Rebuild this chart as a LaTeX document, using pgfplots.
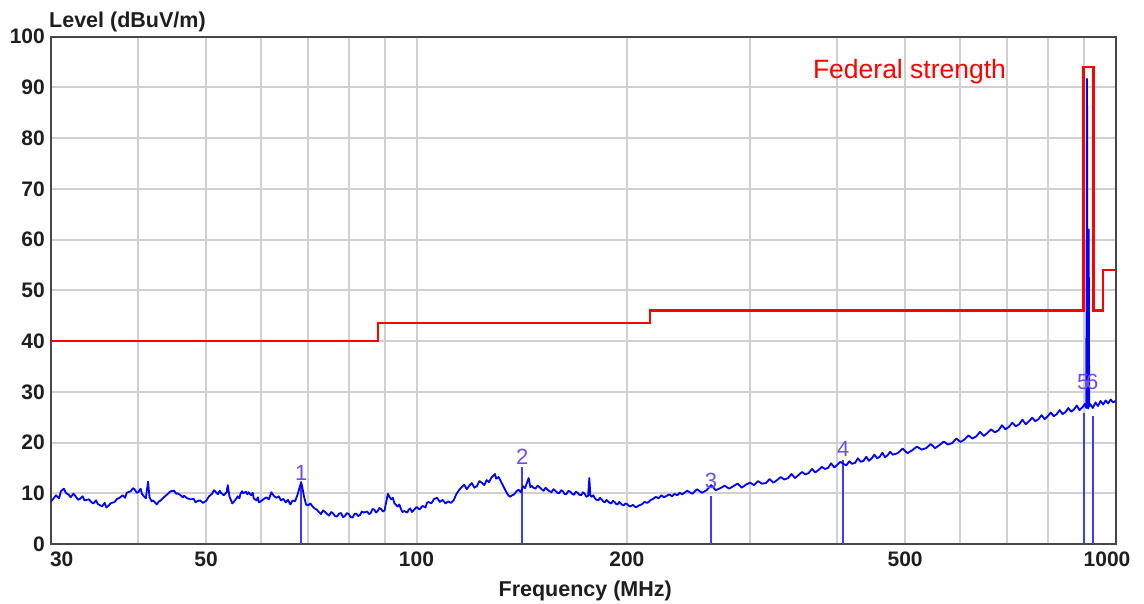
\documentclass[border=0pt]{standalone}
\usepackage{pgfplots}
\pgfplotsset{compat=1.18}
\usepackage{fontspec}
\setmainfont{Liberation Sans}
\definecolor{gridc}{RGB}{208,208,208}
\definecolor{boxc}{RGB}{70,70,70}
\definecolor{tracec}{RGB}{0,0,255}
\definecolor{mkline}{RGB}{60,60,255}
\definecolor{mklab}{RGB}{110,80,230}
\definecolor{tickc}{RGB}{30,30,30}
\begin{document}
\begin{tikzpicture}
\begin{axis}[name=ax, scale only axis, width=1064.5pt, height=507.3pt,
 xmode=log, xmin=30, xmax=1000, ymin=0, ymax=100,
 xtick={30,50,100,200,500,1000},
 xticklabels={\makebox[0pt][l]{\kern-1pt 30},50,100,200,500,\makebox[0pt]{\kern-17pt 1000}},
 minor xtick={40,60,70,80,90,300,400,600,700,800,900},
 ytick={0,10,...,100},
 grid=both,
 major grid style={gridc, line width=2pt},
 minor grid style={gridc, line width=2pt},
 axis line style={boxc, line width=2pt},
 tick style={draw=none},
 /pgf/number format/assume math mode=true,
 ticklabel style={font=\fontsize{21}{24}\selectfont\bfseries, text=tickc},
 yticklabel style={anchor=east, inner sep=0pt, xshift=-6pt},
 xticklabel style={anchor=north, inner sep=0pt, yshift=-7.5pt},
 clip=true,
]
% limit line
\addplot[red, line width=2.3pt] coordinates {(30,40) (88,40) (88,43.5) (216,43.5) (216,46) (900,46) (900,94) (930,94) (930,46) (960,46) (960,54) (1000,54)};
% marker lines
\addplot[mkline, line width=2pt] coordinates {(68.4,0) (68.4,12)};
\addplot[mkline, line width=2pt] coordinates {(141.7,0) (141.7,15.2)};
\addplot[mkline, line width=2pt] coordinates {(263.9,0) (263.9,9.5)};
\addplot[mkline, line width=2pt] coordinates {(408,0) (408,16.6)};
\addplot[mkline, line width=2pt] coordinates {(900.5,0) (900.5,25.8)};
\addplot[mkline, line width=2pt] coordinates {(929.5,0) (929.5,25.2)};
% measured trace
\addplot[tracec, line width=1.8pt, line join=round] coordinates {
(30.0,8.4) (30.3,9.1) (30.5,9.6) (30.8,9.0) (31.0,10.4) (31.3,10.9) (31.5,10.1) (31.8,9.7) (32.0,9.2) (32.3,9.9) (32.5,9.5) (32.8,8.7) (33.0,8.9) (33.3,9.4) (33.5,8.6) (34.0,8.8) (34.3,8.2) (34.5,8.0) (34.8,8.6)
(35.0,7.9) (35.5,7.4) (35.8,8.1) (36.0,7.2) (36.3,7.6) (36.5,8.0) (37.0,8.3) (37.3,8.9) (37.5,9.0) (38.0,9.6) (38.3,9.1) (38.5,10.1) (39.0,10.4) (39.3,11.0) (39.5,10.8) (39.8,10.1)
(40.0,10.2) (40.3,10.9) (40.5,9.8) (41.0,9.0) (41.3,12.3) (41.5,9.2) (41.8,8.4) (42.0,8.6) (42.5,7.8) (42.8,8.4) (43.0,8.5) (43.5,9.2) (44.0,9.8) (44.3,10.2)
(44.5,10.4) (45.0,10.5) (45.3,9.9) (45.5,10.0) (46.0,9.6) (46.3,9.2) (46.5,9.5) (47.0,9.0) (47.5,8.8) (48.0,8.9) (48.3,8.2) (48.5,8.4) (49.0,8.6)
(49.5,8.1) (50.0,8.5) (50.5,9.4) (51.0,9.9) (51.3,10.6) (51.5,10.4) (52.0,9.8) (52.3,10.5) (52.5,10.1) (53.0,9.6) (53.5,10.2) (53.7,11.6)
(54.0,9.4) (54.5,8.0) (55.0,8.6) (55.5,9.4) (55.8,9.0) (56.0,9.9) (56.3,10.4) (56.5,10.0) (57.0,10.3) (57.3,9.8) (57.5,10.2) (58.0,9.6) (58.3,10.1) (58.5,9.0)
(59.0,8.6) (59.3,9.2) (59.5,8.2) (60.0,8.5) (60.5,8.9) (61,9.2) (61.5,8.8) (62,10.2) (62.5,9.5) (63,9.1) (63.5,9.4) (64,8.6) (64.5,8.9) (65,8.2) (65.5,8.7) (66,7.8) (66.5,8.6) (67,8.4)
(67.5,9.5) (68,11.0) (68.4,12.2) (68.8,10.5) (69,9.5) (69.5,7.8) (70,7.6) (70.5,8.0) (71,7.4) (71.5,7.0) (72,6.8) (72.5,6.3) (73,5.9) (73.5,6.6) (74,6.3)
(74.5,5.9) (75,5.6) (75.5,6.3) (76,6.0) (76.5,5.5) (77,5.4) (77.5,6.0) (78,6.1) (78.5,5.3) (79,5.5) (79.5,6.1) (80,5.9) (80.5,5.3) (81,5.2) (81.5,5.9) (82,6.0) (82.5,5.5) (83,5.7) (83.5,6.4) (84,6.2)
(85,6.4) (85.5,5.9) (86,6.1) (86.5,6.9) (87,6.8) (87.5,6.2) (88,6.5) (88.5,7.1) (89,6.9) (89.5,6.4) (90,6.6) (91,9.9) (91.5,9.3) (92,8.8) (92.5,9.1) (93,8.0) (94,7.4) (94.5,7.8)
(95,6.9) (95.5,6.3) (96,6.5) (97,6.2) (97.5,6.8) (98,7.0) (98.5,6.3) (99,6.6) (100,7.3) (101,6.8) (102,7.5) (103,7.2) (103.5,8.1) (104,8.3)
(105,8.0) (106,8.9) (107,9.1) (108,8.3) (109,8.7) (110,8.0) (111,8.4) (112,8.1) (113,8.6) (114,9.8)
(115,10.6) (116,11.2) (117,11.7) (118,10.8) (119,11.5) (120,12.0) (121,11.1) (122,11.4) (123,12.4) (124,12.1) (125,11.6) (126,12.6) (127,12.2) (128,13.1)
(129.5,13.8) (130,12.9) (131,13.2) (132,12.4) (133,11.5) (134,10.6) (135,9.8) (136,9.3) (137,9.6) (138,9.8) (139,10.4) (140,10.7) (141,10.2) (142,11.4) (143,11.0) (144,12.2) (144.7,13.0)
(145.5,11.2) (146,11.5) (147,11.1) (148,10.9) (149,11.5) (150,11.2) (151,10.8) (152,10.5) (153,11.1) (154,10.7) (155,10.4) (156,10.2) (157,10.8) (158,10.5) (159,10.1) (160,10.0) (161,10.6) (162,10.4) (163,9.8) (164,9.9)
(165,10.5) (166,10.3) (167,9.9) (168,9.7) (169,10.3) (170,10.1) (171,9.7) (172,9.6) (173,10.2) (174,9.9) (175,9.3) (176,9.5) (176.7,13.0) (177.3,9.6) (178,9.3) (179,9.6) (180,9.0) (181,8.7) (182,8.6) (183,9.1)
(184,8.8) (185,8.4) (186,8.2) (187,8.7) (188,8.4) (189,8.1) (190,8.0) (191,8.5) (192,8.3) (193,7.9) (194,7.8) (195,8.3) (196,8.0) (197,7.7) (198,7.6) (199,8.0) (200,7.9) (201,7.6) (202,7.4)
(204,7.7) (206,7.2) (208,7.6) (210,7.8) (212,8.3) (214,8.1) (216,8.6) (218,8.9) (220,9.3) (222,9.0)
(224,9.6) (226,9.2) (228,9.5) (230,9.8) (232,9.4) (234,9.9) (236,9.6) (238,10.1) (240,9.8)
(244,10.5) (248,9.9) (252,10.8) (256,10.1) (260,10.6) (264,11.6) (268,10.6) (272,11.0) (276,11.5) (280,10.9) (284,11.4) (288,11.9) (292,11.1) (296,11.7)
(300,12.1) (304,11.6) (308,12.4) (312,11.9) (316,12.0) (320,12.8) (324,12.1) (328,12.6) (332,13.2) (336,12.7) (340,13.0) (344,13.8) (348,13.0) (352,13.6)
(356,14.2) (360,13.7) (364,14.0) (368,14.8) (372,14.1) (376,14.6) (380,15.2) (384,14.8) (388,15.0) (392,15.9) (396,15.1) (400,15.6) (404,16.2) (408,15.8)
(412,15.5) (416,16.3) (420,15.8) (424,16.0) (428,16.9) (432,16.2) (436,16.4) (440,17.2) (444,16.4) (448,16.9) (452,17.6) (456,16.9) (460,17.2) (464,18.0)
(468,17.1) (472,17.5) (476,18.2) (480,17.6)
(488,17.9) (496,18.8) (504,17.9) (512,18.5) (520,19.2) (528,18.6) (536,18.9) (544,19.7) (552,18.9) (560,19.5) (568,20.2) (576,19.6) (584,19.9) (592,20.8)
(600,20.1) (608,20.6) (616,21.4) (624,20.8) (632,21.2) (640,22.1) (648,21.3) (656,21.9) (664,22.6) (672,22.0) (680,22.4) (688,23.4) (696,22.6) (704,23.1)
(712,23.9) (720,23.2) (728,23.6) (736,24.5) (744,23.6) (752,24.2) (760,24.9) (768,24.2) (776,24.6) (784,25.4) (792,24.6) (800,25.2) (808,25.9) (816,25.2)
(824,25.6) (832,26.4) (840,25.6) (848,26.0) (856,26.8) (864,26.1) (872,26.5) (880,27.3) (888,26.4) (896,26.9) (904,27.6) (908,26.8) (910.5,91.7) (912,27.0)
(914,26.7) (915.5,62.0) (917,27.1) (920,27.6) (928,26.8) (936,27.9) (944,27.2) (952,28.2) (960,27.5) (968,28.3) (976,27.7) (984,28.5) (992,27.9) (1000,28.2)
};
% marker labels
\begin{scope}[every node/.style={text=mklab, font=\fontsize{22}{24}\selectfont, inner sep=0pt, anchor=base}]
\node at (axis cs:68.4,12.6) {1};
\node at (axis cs:141.7,15.6) {2};
\node at (axis cs:263.9,11.0) {3};
\node at (axis cs:408,17.2) {4};
\node at (axis cs:899,30.4) {5};
\node at (axis cs:926,30.4) {6};
\end{scope}
\node[anchor=base west, inner sep=0pt, text=red, font=\fontsize{26.5}{28}\selectfont] at (axis cs:369,91.7) {Federal strength};
\end{axis}
\node[anchor=base west, inner sep=0pt, text=tickc, font=\fontsize{21.5}{24}\selectfont\bfseries] at ([xshift=-2pt,yshift=9.4pt]ax.north west) {Level (dBuV/m)};
\node[anchor=base, inner sep=0pt, text=tickc, font=\fontsize{21.5}{24}\selectfont\bfseries] at ([xshift=2pt,yshift=-52pt]ax.south) {Frequency (MHz)};
\pgfresetboundingbox
\path[use as bounding box] ([xshift=-51pt,yshift=-59pt]ax.south west) rectangle ([xshift=28.5pt,yshift=36.7pt]ax.north east);
\end{tikzpicture}
\end{document}
